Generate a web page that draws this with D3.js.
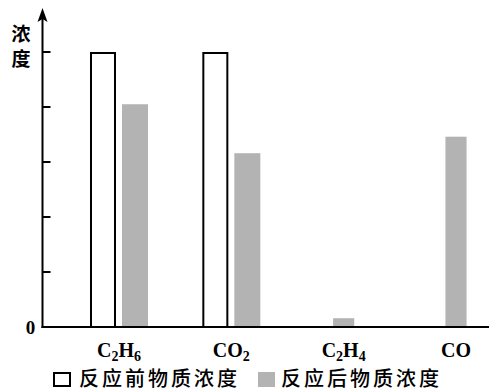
<!DOCTYPE html>
<html>
<head>
<meta charset="utf-8">
<script src="https://cdn.jsdelivr.net/npm/d3@7"></script>
<style>
  html, body { margin: 0; padding: 0; background: #fff; }
  svg { display: block; }
</style>
</head>
<body>
<svg id="chart" width="489" height="391"></svg>
<script>
// Species measured, with subscript markers for the chemical formulas
const categories = ["C2H6", "CO2", "C2H4", "CO"];
const categoryLabels = [
  [["C", false], ["2", true], ["H", false], ["6", true]],
  [["CO", false], ["2", true]],
  [["C", false], ["2", true], ["H", false], ["4", true]],
  [["CO", false]]
];
// Concentration before and after the reaction (relative units)
const beforeValues = [5, 5, 0, 0];
const afterValues = [4.05, 3.16, 0.16, 3.46];
const seriesKeys = ["before", "after"];
const seriesNames = ["反应前物质浓度", "反应后物质浓度"];
const yTicks = [1, 2, 3, 4, 5];

const svg = d3.select("#chart");
const W = 489, H = 391;
const margin = { left: 42, right: 0, top: 8, bottom: 64 };
const baseY = H - margin.bottom; // 327

const latin = "'Liberation Serif', 'Times New Roman', serif";
const cjk = "'Noto Sans CJK SC', sans-serif";
const gray = "#b3b3b3";

const y = d3.scaleLinear().domain([0, 5]).range([baseY, baseY - 275]);
const x = d3.scalePoint().domain(categories).range([margin.left + 77, W - 33]);

const barW = 26, gap = 6;

const rows = categories.map((c, i) => ({
  cat: c,
  values: { before: beforeValues[i], after: afterValues[i] }
}));

// bars: only nonzero series take a slot, centred on the category
const g = svg.append("g");
rows.forEach(r => {
  const present = seriesKeys.filter(k => r.values[k] > 0);
  const groupW = present.length * barW + (present.length - 1) * gap;
  const cx = x(r.cat);
  const x1 = d3.scaleBand()
    .domain(present)
    .range([cx - groupW / 2, cx + groupW / 2])
    .paddingInner(gap / (barW + gap));
  present.forEach(k => {
    const v = r.values[k];
    if (k === "before") {
      g.append("rect")
        .attr("x", x1(k) + 1)
        .attr("y", y(v) + 1)
        .attr("width", x1.bandwidth() - 2)
        .attr("height", y(0) - y(v) - 1)
        .attr("fill", "#fff")
        .attr("stroke", "#000")
        .attr("stroke-width", 2);
    } else {
      g.append("rect")
        .attr("x", x1(k))
        .attr("y", y(v))
        .attr("width", x1.bandwidth())
        .attr("height", y(0) - y(v))
        .attr("fill", gray);
    }
  });
});

// y axis with inward ticks and arrow head
const axisX = margin.left + 0.5;
svg.append("line")
  .attr("x1", axisX).attr("x2", axisX)
  .attr("y1", baseY + 1).attr("y2", 16)
  .attr("stroke", "#000").attr("stroke-width", 2);
svg.append("path")
  .attr("d", `M${axisX},${margin.top} L${axisX + 5},${margin.top + 14} L${axisX},${margin.top + 11} L${axisX - 5},${margin.top + 14} Z`)
  .attr("fill", "#000");
svg.selectAll(".ytick").data(yTicks).enter().append("line")
  .attr("x1", axisX).attr("x2", axisX + 8)
  .attr("y1", d => y(d)).attr("y2", d => y(d))
  .attr("stroke", "#000").attr("stroke-width", 2);

// x axis
svg.append("line")
  .attr("x1", margin.left - 0.5).attr("x2", W)
  .attr("y1", baseY).attr("y2", baseY)
  .attr("stroke", "#000").attr("stroke-width", 2);

// zero label
svg.append("text")
  .attr("x", 30.5).attr("y", y(0) + 7)
  .attr("text-anchor", "middle")
  .attr("font-family", latin).attr("font-weight", "bold").attr("font-size", 19)
  .text("0");

// y axis title, stacked vertically
["浓", "度"].forEach((ch, i) => {
  svg.append("text")
    .attr("x", 21).attr("y", 41 + i * 25)
    .attr("text-anchor", "middle")
    .attr("font-family", cjk).attr("font-weight", "bold").attr("font-size", 19)
    .text(ch);
});

// category labels with subscripts
categories.forEach((c, i) => {
  const t = svg.append("text")
    .attr("x", x(c)).attr("y", baseY + 30)
    .attr("text-anchor", "middle")
    .attr("font-family", latin).attr("font-weight", "bold").attr("font-size", 20);
  let shifted = false;
  categoryLabels[i].forEach(([s, sub]) => {
    const ts = t.append("tspan").text(s);
    if (sub && !shifted) { ts.attr("dy", 4).attr("font-size", 14); shifted = true; }
    else if (sub) { ts.attr("font-size", 14); }
    else if (shifted) { ts.attr("dy", -4); shifted = false; }
  });
});

// legend
const legY = 379;
svg.append("rect")
  .attr("x", 54).attr("y", legY - 6).attr("width", 16).attr("height", 13)
  .attr("fill", "#fff").attr("stroke", "#000").attr("stroke-width", 2);
svg.append("text")
  .attr("x", 79).attr("y", legY + 7)
  .attr("font-family", cjk).attr("font-size", 20).attr("font-weight", 500)
  .attr("letter-spacing", 3)
  .text(seriesNames[0]);
svg.append("rect")
  .attr("x", 258).attr("y", legY - 7).attr("width", 17).attr("height", 15)
  .attr("fill", gray);
svg.append("text")
  .attr("x", 281).attr("y", legY + 7)
  .attr("font-family", cjk).attr("font-size", 20).attr("font-weight", 500)
  .attr("letter-spacing", 3)
  .text(seriesNames[1]);
</script>
</body>
</html>
